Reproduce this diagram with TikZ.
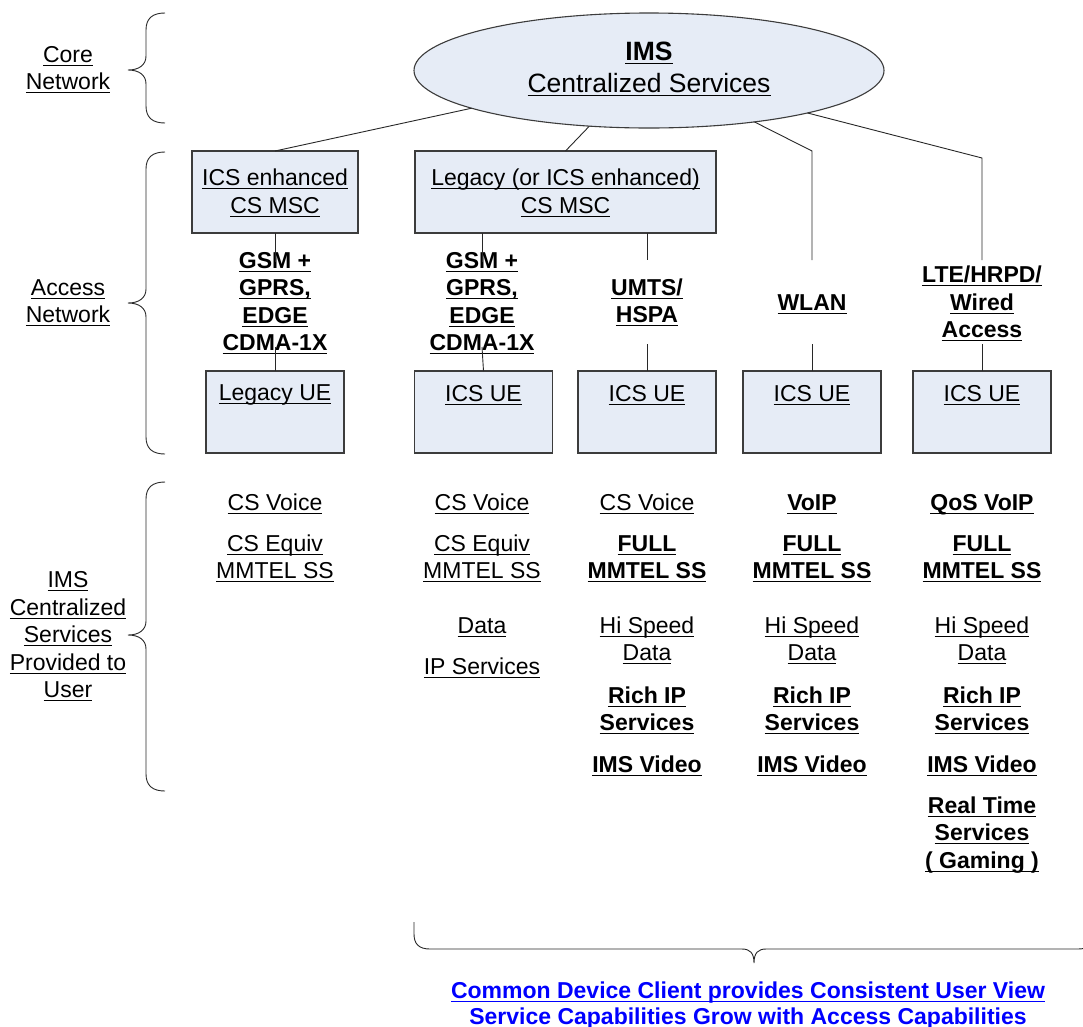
\documentclass[tikz,border=0pt]{standalone}
\usepackage{fontspec}
\setmainfont{Liberation Sans}
\usetikzlibrary{shapes.geometric}
\definecolor{boxfill}{RGB}{230,236,246}
\definecolor{edgegray}{RGB}{60,60,60}
\definecolor{linkgray}{RGB}{40,40,40}
\definecolor{noteblue}{RGB}{0,0,255}
\newcommand\U[1]{\setbox0=\hbox{#1}\rlap{\rule[-3.9pt]{\wd0}{1.4pt}}\box0}
\newcommand\sidebrace[3]{\draw[brc] (165,#1) .. controls (153,#1) and (146,{#1+5}) .. (146,{#1+17}) -- (146,{#2-14}) .. controls (146,{#2-5}) and (139,#2) .. (128,#2) .. controls (139,#2) and (146,{#2+5}) .. (146,{#2+14}) -- (146,{#3-17}) .. controls (146,{#3-5}) and (153,#3) .. (165,#3);}
\begin{document}
\begin{tikzpicture}[x=1pt,y=-1pt,
  every node/.style={inner sep=0pt, outer sep=0pt},
  boxnode/.style={draw=edgegray, line width=1.1pt, fill=boxfill},
  uebox/.style={boxnode, minimum width=138pt, minimum height=82pt},
  lnk/.style={draw=linkgray, line width=0.9pt},
  brc/.style={draw=linkgray, line width=0.9pt},
  txt/.style={align=center, anchor=base, font=\fontsize{23}{27.5}\selectfont},
  btxt/.style={txt, font=\fontsize{23}{27.5}\selectfont\bfseries}]
\useasboundingbox (0,0) rectangle (1083,1026);
\fill[white] (0,0) rectangle (1083,1026);

% braces
\sidebrace{13}{70}{123}
\sidebrace{152}{303}{454}
\sidebrace{482}{635}{791}
\draw[brc] (414,922) -- (414,934) .. controls (414,944) and (419,949) .. (430,949) -- (742,949) .. controls (750,949) and (754,953) .. (754,963) .. controls (754,953) and (758,949) .. (766,949) -- (1078,949) .. controls (1089,949) and (1094,944) .. (1094,934) -- (1094,922);

% side labels (anchor = baseline of last line)
\node[txt] (coret) at (68,89.5) {\U{Core}\\\U{Network}};
\node[txt] (accesst) at (68,322.5) {\U{Access}\\\U{Network}};
\node[txt] (userst) at (68,697.5) {\U{IMS}\\\U{Centralized}\\\U{Services}\\\U{Provided to}\\\U{User}};

% core
\node[ellipse, boxnode, minimum width=470pt, minimum height=115pt] (ims) at (649,70.5) {};
\node[txt, font=\fontsize{26.5}{32}\selectfont] (imst) at (649,92) {\textbf{\U{IMS}}\\\U{Centralized Services}};

% MSC boxes
\node[boxnode, minimum width=166pt, minimum height=82pt] (msc1) at (275,192) {};
\node[txt] (msc1t) at (275,213) {\U{ICS enhanced}\\\U{CS MSC}};
\node[boxnode, minimum width=301pt, minimum height=82pt] (msc2) at (565.5,192) {};
\node[txt] (msc2t) at (565.5,213) {\U{Legacy (or ICS enhanced)}\\\U{CS MSC}};

% UE boxes
\node[uebox] (ue1) at (275,412) {};
\node[uebox] (ue2) at (483.5,412) {};
\node[uebox] (ue3) at (647,412) {};
\node[uebox] (ue4) at (812,412) {};
\node[uebox] (ue5) at (982,412) {};
\node[txt] (ue1t) at (275,400) {\U{Legacy UE}};
\node[txt] (ue2t) at (483.5,401) {\U{ICS UE}};
\node[txt] (ue3t) at (647,401) {\U{ICS UE}};
\node[txt] (ue4t) at (812,401) {\U{ICS UE}};
\node[txt] (ue5t) at (982,401) {\U{ICS UE}};

% access labels
\node[btxt] (acc1) at (275,350.5) {\U{GSM +}\\\U{GPRS,}\\\U{EDGE}\\\U{CDMA-1X}};
\node[btxt] (acc2) at (482,350.5) {\U{GSM +}\\\U{GPRS,}\\\U{EDGE}\\\U{CDMA-1X}};
\node[btxt] (acc3) at (647,322.5) {\U{UMTS/}\\\U{HSPA}};
\node[btxt] (acc4) at (812,310) {\U{WLAN}};
\node[btxt] (acc5) at (982,337.5) {\U{LTE/HRPD/}\\\U{Wired}\\\U{Access}};

% connector coordinates
\coordinate (a1top) at (275,262);
\coordinate (a1bot) at (275,347);
\coordinate (a2src) at (482,233);
\coordinate (a2top) at (482,262);
\coordinate (a2bot) at (482,347);
\coordinate (a3src) at (647,233);
\coordinate (a3top) at (647,260);
\coordinate (a3bot) at (647,344);
\coordinate (a4bend) at (812,151);
\coordinate (a4top) at (812,260);
\coordinate (a4bot) at (812,344);
\coordinate (a5bend) at (982,158);
\coordinate (a5top) at (982,260);
\coordinate (a5bot) at (982,344);

% connectors
\draw[lnk] (ims.192.3) -- (msc1.north);
\draw[lnk] (ims.223.3) -- (msc2.north);
\draw[lnk] (ims.334.3) -- (a4bend) -- (a4top);
\draw[lnk] (ims.345.6) -- (a5bend) -- (a5top);
\draw[lnk] (msc1.south) -- (a1top);
\draw[lnk] (a1bot) -- (ue1.north);
\draw[lnk] (a2src) -- (a2top);
\draw[lnk] (a2bot) -- (ue2.north);
\draw[lnk] (a3src) -- (a3top);
\draw[lnk] (a3bot) -- (ue3.north);
\draw[lnk] (a4bot) -- (ue4.north);
\draw[lnk] (a5bot) -- (ue5.north);

% services column 1
\node[txt] (s1a) at (275,510) {\U{CS Voice}};
\node[txt] (s1b) at (275,578.5) {\U{CS Equiv}\\\U{MMTEL SS}};
% column 2
\node[txt] (s2a) at (482,510) {\U{CS Voice}};
\node[txt] (s2b) at (482,578.5) {\U{CS Equiv}\\\U{MMTEL SS}};
\node[txt] (s2c) at (482,633) {\U{Data}};
\node[txt] (s2d) at (482,674) {\U{IP Services}};
% column 3
\node[txt] (s3a) at (647,510) {\U{CS Voice}};
\node[btxt] (s3b) at (647,578.5) {\U{FULL}\\\U{MMTEL SS}};
\node[txt] (s3c) at (647,660.5) {\U{Hi Speed}\\\U{Data}};
\node[btxt] (s3d) at (647,730.5) {\U{Rich IP}\\\U{Services}};
\node[btxt] (s3e) at (647,772) {\U{IMS Video}};
% column 4
\node[btxt] (s4a) at (812,510) {\U{VoIP}};
\node[btxt] (s4b) at (812,578.5) {\U{FULL}\\\U{MMTEL SS}};
\node[txt] (s4c) at (812,660.5) {\U{Hi Speed}\\\U{Data}};
\node[btxt] (s4d) at (812,730.5) {\U{Rich IP}\\\U{Services}};
\node[btxt] (s4e) at (812,772) {\U{IMS Video}};
% column 5
\node[btxt] (s5a) at (982,510) {\U{QoS VoIP}};
\node[btxt] (s5b) at (982,578.5) {\U{FULL}\\\U{MMTEL SS}};
\node[txt] (s5c) at (982,660.5) {\U{Hi Speed}\\\U{Data}};
\node[btxt] (s5d) at (982,730.5) {\U{Rich IP}\\\U{Services}};
\node[btxt] (s5e) at (982,772) {\U{IMS Video}};
\node[btxt] (s5f) at (982,868) {\U{Real Time}\\\U{Services}\\\U{( Gaming )}};

% bottom note
\node[btxt, text=noteblue, font=\fontsize{23}{26}\selectfont\bfseries] (note) at (748,1024) {\U{Common Device Client provides Consistent User View}\\Service Capabilities Grow with Access Capabilities};
\end{tikzpicture}
\end{document}
